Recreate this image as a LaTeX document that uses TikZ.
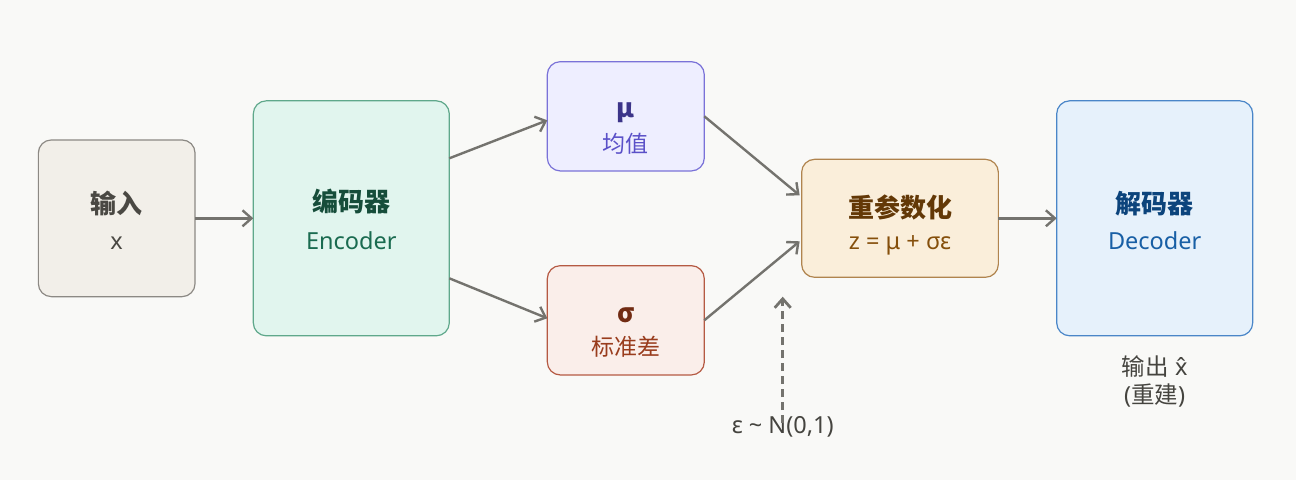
\documentclass[tikz,border=0pt]{standalone}
\usepackage{fontspec}
\setmainfont{Noto Sans}
\newfontfamily\cjk{Noto Sans CJK SC}
\usetikzlibrary{arrows.meta}
\definecolor{bg}{HTML}{F9F9F7}
\definecolor{arr}{HTML}{74736E}
\definecolor{inF}{HTML}{F2EFE9}\definecolor{inD}{HTML}{8C8984}\definecolor{inT}{HTML}{4A4843}
\definecolor{enF}{HTML}{E1F5EE}\definecolor{enD}{HTML}{5FA88B}\definecolor{enT}{HTML}{164D3A}\definecolor{enS}{HTML}{1A6B50}
\definecolor{muF}{HTML}{EEEEFF}\definecolor{muD}{HTML}{7A72D8}\definecolor{muT}{HTML}{3C3489}\definecolor{muS}{HTML}{5A50C8}
\definecolor{sgF}{HTML}{FAEEEA}\definecolor{sgD}{HTML}{B55A43}\definecolor{sgT}{HTML}{712B13}\definecolor{sgS}{HTML}{993C1D}
\definecolor{rpF}{HTML}{FAEEDA}\definecolor{rpD}{HTML}{B0844E}\definecolor{rpT}{HTML}{633806}\definecolor{rpS}{HTML}{854F0B}
\definecolor{dcF}{HTML}{E6F1FB}\definecolor{dcD}{HTML}{4A86C8}\definecolor{dcT}{HTML}{0C447C}\definecolor{dcS}{HTML}{185FA5}
\definecolor{lbl}{HTML}{45443F}
\tikzset{
  box/.style={draw, rounded corners=13pt, line width=1.2pt, inner sep=0pt, outer sep=0pt},
  ttl/.style={inner sep=0pt, font=\cjk\bfseries\fontsize{26}{31}\selectfont},
  sub/.style={inner sep=0pt, font=\fontsize{23.5}{28}\selectfont},
  subc/.style={inner sep=0pt, font=\cjk\fontsize{23}{28}\selectfont},
  conn/.style={draw=arr, line width=2.4pt, -{Straight Barb[length=9pt,width=16pt]}},
}
\begin{document}
\begin{tikzpicture}[x=1pt,y=-1pt]
\fill[bg] (0,0) rectangle (1296,480);
\useasboundingbox (0,0) rectangle (1296,480);
% boxes
\node[box, fill=inF, draw=inD, minimum width=156.7pt, minimum height=156.7pt] (inp) at (116.7,218.3) {};
\node[box, fill=enF, draw=enD, minimum width=196pt, minimum height=235pt] (enc) at (351.3,218.3) {};
\node[box, fill=muF, draw=muD, minimum width=157pt, minimum height=109.3pt] (mu) at (625.8,116.3) {};
\node[box, fill=sgF, draw=sgD, minimum width=157pt, minimum height=109.3pt] (sig) at (625.8,320.3) {};
\node[box, fill=rpF, draw=rpD, minimum width=196.7pt, minimum height=118pt] (rep) at (900,218.3) {};
\node[box, fill=dcF, draw=dcD, minimum width=196pt, minimum height=235pt] (dec) at (1154.7,218.3) {};
% texts
\node[ttl, text=inT] (inpt) at (116.7,203) {输入};
\node[sub, text=inT] (inps) at (116.7,243.5) {x};
\node[ttl, text=enT] (enct) at (351.3,201.5) {编码器};
\node[sub, text=enS] (encs) at (351.3,241) {Encoder};
\node[ttl, text=muT] (mut) at (625.8,113) {μ};
\node[subc, text=muS] (mus) at (625.8,143.5) {均值};
\node[ttl, text=sgT] (sigt) at (625.8,315) {σ};
\node[subc, text=sgS] (sigs) at (625.8,347) {标准差};
\node[ttl, text=rpT] (rept) at (900,207) {重参数化};
\node[sub, text=rpS] (reps) at (900,245) {z = μ + σε};
\node[ttl, text=dcT] (dect) at (1154.7,204) {解码器};
\node[sub, text=dcS] (decs) at (1154.7,241) {Decoder};
\node[sub, text=lbl] (outa) at (1154.7,366.7) {{\cjk 输出} x̂};
\node[sub, text=lbl] (outb) at (1154.7,395.5) {({\cjk 重建})};
\node[sub, text=lbl] (eps) at (782.7,426.7) {ε \char`\~{} N(0,1)};
\coordinate (epsTop) at (782.7,296.7);
% connectors
\draw[conn] (inp.east) -- (enc.west);
\draw[conn] ([yshift=60pt]enc.east) -- ([yshift=-4pt]mu.west);
\draw[conn] ([yshift=-60pt]enc.east) -- ([yshift=2pt]sig.west);
\draw[conn] (mu.east) -- ([yshift=23pt,xshift=-2pt]rep.west);
\draw[conn] (sig.east) -- ([yshift=-23pt,xshift=-2pt]rep.west);
\draw[conn] (rep.east) -- (dec.west);
\draw[conn, line width=2.8pt, dash pattern=on 8pt off 5pt] ([yshift=-7pt]eps.north) -- (epsTop);
\end{tikzpicture}
\end{document}
